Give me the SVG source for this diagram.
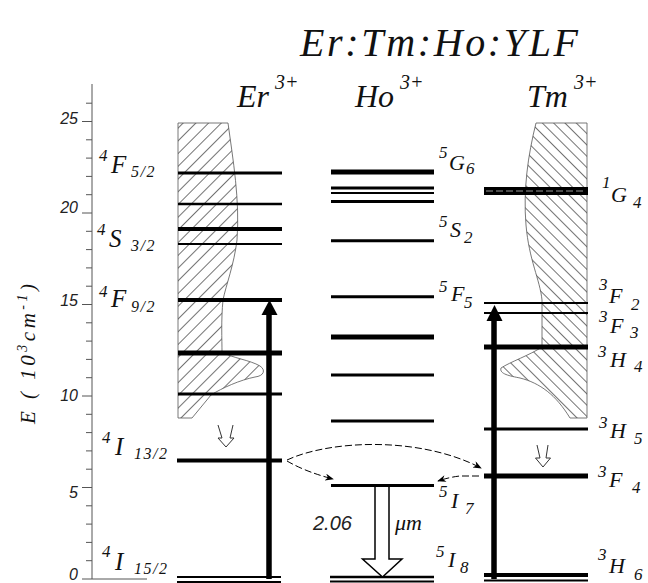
<svg xmlns="http://www.w3.org/2000/svg" width="648" height="583" viewBox="0 0 648 583">
<defs>
<style>
.lv{stroke:#000;fill:none}
.ax{stroke:#555;fill:none;stroke-width:1}
.sr{font-family:"Liberation Serif","DejaVu Serif",serif;font-style:italic;fill:#111}
.sn{font-family:"Liberation Sans","DejaVu Sans",sans-serif;font-style:italic;fill:#222}
.m1{font-size:25px}
.m2{font-size:22px}
.up{font-size:17px}
.dn{font-size:16px;letter-spacing:1.5px}
.dash{stroke:#000;fill:none;stroke-width:1;stroke-dasharray:7 3}
.hatch{stroke:#555;stroke-width:0.8}
</style>
<pattern id="hEr" width="9" height="9" patternUnits="userSpaceOnUse" patternTransform="rotate(45)"><line x1="0" y1="0" x2="0" y2="9" stroke="#000" stroke-width="1.1"/></pattern>
<pattern id="hTm" width="8" height="8" patternUnits="userSpaceOnUse" patternTransform="rotate(-45)"><line x1="0" y1="0" x2="0" y2="8" stroke="#000" stroke-width="1.1"/></pattern>
<marker id="ah" viewBox="0 0 10 8" refX="9" refY="4" markerWidth="10" markerHeight="7" orient="auto" markerUnits="userSpaceOnUse"><path d="M0,0 L10,4 L0,8 L3,4 z" fill="#000"/></marker>
</defs>

<g id="title">
<text class="sr" x="300" y="56" font-size="40" textLength="278" lengthAdjust="spacing">Er:Tm:Ho:YLF</text>
</g>

<g id="axis">
<line class="ax" x1="92" y1="84" x2="92" y2="579"/>
<line class="ax" x1="92" y1="579" x2="147" y2="579"/>
<path class="ax" d="M82,579H92 M86,560.7H92 M86,542.4H92 M86,524.1H92 M86,505.8H92 M82,487.5H92 M86,469.2H92 M86,450.9H92 M86,432.6H92 M86,414.3H92 M82,396H92 M86,377.7H92 M86,359.4H92 M86,341.1H92 M86,322.8H92 M82,304.5H92 M86,286.2H92 M86,267.9H92 M86,249.6H92 M86,231.3H92 M82,213H92 M86,194.7H92 M86,176.4H92 M86,158.1H92 M86,139.8H92 M82,121.5H92 M86,103.2H92"/>
<g class="sn" font-size="16" text-anchor="end">
<text x="78" y="124">25</text>
<text x="78" y="213">20</text>
<text x="78" y="306">15</text>
<text x="78" y="401">10</text>
<text x="78" y="498">5</text>
<text x="78" y="580">0</text>
</g>
<text class="sr" font-size="21" transform="translate(35,354) rotate(-90)" text-anchor="middle" textLength="140" lengthAdjust="spacing">E ( 10<tspan font-size="14" dy="-8">3</tspan><tspan dy="8">cm</tspan><tspan font-size="14" dy="-8">-1</tspan><tspan dy="8">)</tspan></text>
</g>

<g id="ion-labels">
<text class="sr" x="237" y="107" font-size="32">Er<tspan font-size="20" dx="6" dy="-18">3+</tspan></text>
<text class="sr" x="355" y="107" font-size="32">Ho<tspan font-size="20" dx="6" dy="-18">3+</tspan></text>
<text class="sr" x="527" y="107" font-size="32">Tm<tspan font-size="20" dx="6" dy="-18">3+</tspan></text>
</g>

<g id="er">
<path class="hatch" fill="url(#hEr)" d="M178,123 L228,123 C233,160 240,200 237,240 C234,265 226,285 223,300 C221,320 222,340 222,352 C232,358 250,360 260,366 C266,370 264,376 255,377 C240,380 222,388 211,395 L192,418 L178,418 Z"/>
<g class="lv">
<line x1="178" y1="173" x2="282" y2="173" stroke-width="3"/>
<line x1="178" y1="204" x2="282" y2="204" stroke-width="2.5"/>
<line x1="178" y1="229" x2="282" y2="229" stroke-width="4"/>
<line x1="178" y1="244" x2="282" y2="244" stroke-width="2"/>
<line x1="178" y1="300" x2="282" y2="300" stroke-width="4"/>
<line x1="178" y1="353" x2="282" y2="353" stroke-width="5"/>
<line x1="178" y1="394" x2="282" y2="394" stroke-width="3"/>
<line x1="177" y1="460.5" x2="282" y2="460.5" stroke-width="4"/>
<line x1="177" y1="577" x2="281" y2="577" stroke-width="2"/>
<line x1="177" y1="582" x2="281" y2="582" stroke-width="2"/>
</g>
<path d="M218,425 L222,438 L218,438 L226,447 L234,438 L230,438 L233,425" fill="none" stroke="#333" stroke-width="1"/>
<line x1="269" y1="579" x2="269" y2="312" stroke="#000" stroke-width="5.5"/>
<path d="M261.5,315 L269.5,300 L277.5,315 Z" fill="#000"/>
<g class="sr">
<text x="99" y="161" class="up">4</text><text x="111" y="173" class="m1">F</text><text x="131" y="177" class="dn">5/2</text>
<text x="97" y="235" class="up">4</text><text x="109" y="247" class="m1">S</text><text x="131" y="251" class="dn">3/2</text>
<text x="99" y="297" class="up">4</text><text x="111" y="307" class="m1">F</text><text x="131" y="312" class="dn">9/2</text>
<text x="102" y="443" class="up">4</text><text x="115" y="455" class="m1">I</text><text x="134" y="459" class="dn">13/2</text>
<text x="102" y="557" class="up">4</text><text x="115" y="570" class="m1">I</text><text x="134" y="574" class="dn">15/2</text>
</g>
</g>

<g id="ho">
<g class="lv">
<line x1="331" y1="172" x2="434" y2="172" stroke-width="5"/>
<line x1="331" y1="188" x2="434" y2="188" stroke-width="3"/>
<line x1="331" y1="193" x2="434" y2="193" stroke-width="2"/>
<line x1="331" y1="201.5" x2="434" y2="201.5" stroke-width="3"/>
<line x1="331" y1="240.7" x2="434" y2="240.7" stroke-width="3"/>
<line x1="331" y1="296.7" x2="434" y2="296.7" stroke-width="3"/>
<line x1="331" y1="337" x2="434" y2="337" stroke-width="5"/>
<line x1="331" y1="375" x2="434" y2="375" stroke-width="3"/>
<line x1="331" y1="421" x2="434" y2="421" stroke-width="3"/>
<line x1="331" y1="485.5" x2="434" y2="485.5" stroke-width="3"/>
<line x1="330" y1="577" x2="434" y2="577" stroke-width="2.5"/>
<line x1="330" y1="581.5" x2="434" y2="581.5" stroke-width="2"/>
</g>
<path d="M375,487 L375,559 L362.5,559 L382.5,577 L402,559 L389,559 L389,487" fill="#fff" stroke="#000" stroke-width="1.5"/>
<text class="sn" x="313" y="530" font-size="20">2.06</text>
<text class="sr" x="395" y="530" font-size="22">μm</text>
<g class="sr">
<text x="439" y="158" class="up">5</text><text x="449" y="170" class="m2">G</text><text x="466" y="174" class="up">6</text>
<text x="439" y="227" class="up">5</text><text x="450" y="237" class="m2">S</text><text x="464" y="243" class="up">2</text>
<text x="439" y="292" class="up">5</text><text x="451" y="301" class="m2">F</text><text x="464" y="308" class="up">5</text>
<text x="439" y="497" class="up">5</text><text x="451" y="508" class="m2">I</text><text x="465" y="514" class="up">7</text>
<text x="436" y="557" class="up">5</text><text x="448" y="567" class="m2">I</text><text x="460" y="573" class="up">8</text>
</g>
</g>

<g id="tm">
<path class="hatch" fill="url(#hTm)" d="M587,123 L536,123 C528,155 523,190 526,225 C529,260 540,280 542,300 L542,347 C530,355 510,362 501,368 C499,374 510,376 520,378 C540,383 556,395 570,418 L587,418 Z"/>
<g class="lv">
<line x1="484" y1="191" x2="588" y2="191" stroke-width="8"/>
<line x1="484" y1="303" x2="588" y2="303" stroke-width="2"/>
<line x1="484" y1="313" x2="588" y2="313" stroke-width="2"/>
<line x1="484" y1="347" x2="588" y2="347" stroke-width="5"/>
<line x1="484" y1="429" x2="588" y2="429" stroke-width="3"/>
<line x1="484" y1="476" x2="588" y2="476" stroke-width="5"/>
<line x1="484" y1="575" x2="588" y2="575" stroke-width="4"/>
<line x1="484" y1="580.5" x2="588" y2="580.5" stroke-width="2"/>
</g>
<line x1="486" y1="191" x2="586" y2="191" stroke="#999" stroke-width="1" stroke-dasharray="7 3"/>
<path d="M537,445 L540,458 L535.5,458 L543,467 L550.5,458 L546,458 L548,445" fill="none" stroke="#333" stroke-width="1"/>
<line x1="494" y1="579" x2="494" y2="318" stroke="#000" stroke-width="5.5"/>
<path d="M486.5,321 L494.5,305 L502.5,321 Z" fill="#000"/>
<g class="sr">
<text x="602" y="188" class="up">1</text><text x="611" y="202" class="m2">G</text><text x="633" y="208" class="up">4</text>
<text x="599" y="290" class="up">3</text><text x="609" y="303" class="m2">F</text><text x="631" y="310" class="up">2</text>
<text x="599" y="322" class="up">3</text><text x="610" y="333" class="m2">F</text><text x="630" y="338" class="up">3</text>
<text x="598" y="357" class="up">3</text><text x="610" y="367" class="m2">H</text><text x="634" y="372" class="up">4</text>
<text x="599" y="428" class="up">3</text><text x="610" y="438" class="m2">H</text><text x="634" y="444" class="up">5</text>
<text x="598" y="477" class="up">3</text><text x="609" y="487" class="m2">F</text><text x="632" y="493" class="up">4</text>
<text x="598" y="560" class="up">3</text><text x="609" y="573" class="m2">H</text><text x="634" y="580" class="up">6</text>
</g>
</g>

<g id="connectors">
<path class="dash" d="M287,460 C330,440 420,436 481,468" marker-end="url(#ah)"/>
<path class="dash" d="M287,461 Q306,472 333,479" marker-end="url(#ah)"/>
<path class="dash" d="M479,476 L460,476 Q450,477 438,481" marker-end="url(#ah)"/>
</g>
</svg>
